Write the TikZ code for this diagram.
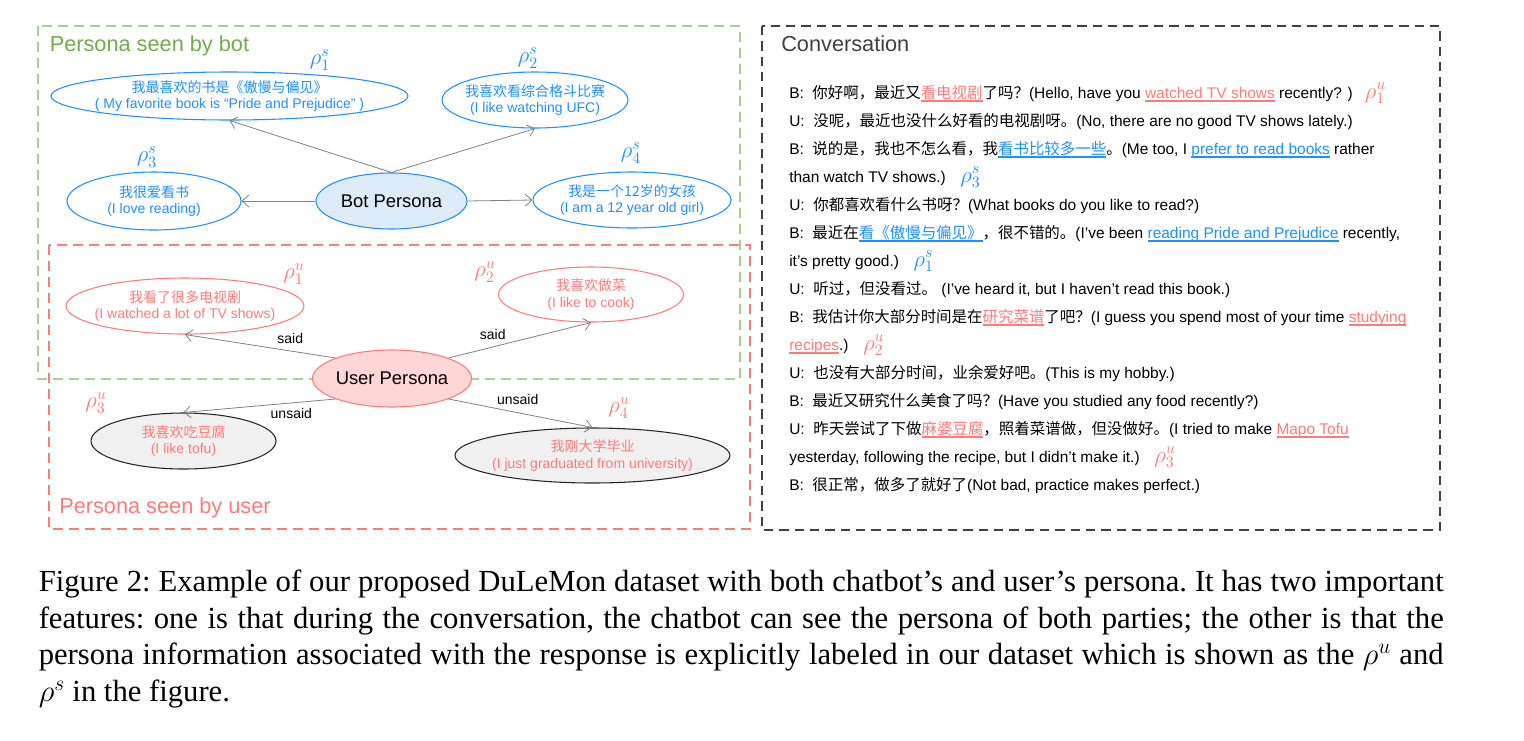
\RequirePackage{fix-cm}
\documentclass[tikz,border=0pt]{standalone}
\usepackage[no-math]{fontspec}
\setmainfont{Liberation Sans}
\newfontfamily\cjk{Noto Sans CJK SC}
\newfontfamily\capfont{Liberation Serif}
\usetikzlibrary{shapes.geometric,arrows.meta}

\definecolor{pblue}{RGB}{30,144,255}
\definecolor{pred}{RGB}{255,122,122}
\definecolor{pgreen}{RGB}{112,173,71}
\definecolor{lgreen}{RGB}{169,209,142}
\definecolor{dgray}{RGB}{64,64,64}
\definecolor{bfill}{RGB}{221,235,247}
\definecolor{rfill}{RGB}{255,214,214}
\definecolor{gfill}{RGB}{240,240,240}

\newcommand\ellfont{\fontsize{10.5}{12.5}\selectfont}
\newcommand\convfont{\fontsize{11.6}{14}\selectfont}
\newcommand\titlefont{\fontsize{16.3}{18}\selectfont}
\newcommand\perfont{\fontsize{13.8}{16}\selectfont}
\newcommand\rhofont{\fontsize{17}{17}\selectfont}
\newcommand\capsize{\fontsize{23}{27.5}\selectfont}

\newsavebox\ulbox
\newcommand\uln[1]{\sbox\ulbox{#1}\rlap{\rule[-2.9pt]{\wd\ulbox}{1.1pt}}\usebox\ulbox}
\newcommand\ru[1]{{\color{pred}\uln{#1}}}
\newcommand\bu[1]{{\color{pblue}\uln{#1}}}
\newcommand\rlab[3]{{\color{#1}\rhofont$\rho_{#2}^{#3}$}}

\begin{document}
\begin{tikzpicture}[x=0.75pt,y=-0.75pt,
    esize/.style 2 args={minimum width=#1*0.75pt,minimum height=#2*0.75pt},
    pell/.style={ellipse,inner sep=0pt,line width=0.8pt},
    sell/.style={pell,draw=pblue},
    uell/.style={pell,draw=pred},
    nell/.style={pell,draw=black!85,fill=gfill},
    etext/.style={align=center,font=\ellfont,inner sep=0pt},
    rlabel/.style={inner sep=0pt,font=\rhofont},
    tag/.style={font=\ellfont,inner sep=0pt},
    link/.style={draw=gray,line width=0.6pt,-{Straight Barb[length=5pt,width=9pt]}},
    title/.style={anchor=base west,inner sep=0pt,font=\titlefont},
    conv/.style={anchor=base west,inner sep=0pt,font=\convfont},
    box/.style={line width=1.6pt,dash pattern=on 7.5pt off 4.5pt}]
\useasboundingbox (0,0) rectangle (1524,740);

\draw[box,draw=lgreen] (38,26) rectangle (740,379);
\draw[box,draw=pred] (49,245) rectangle (750,529);
\draw[box,draw=dgray,dash pattern=on 7pt off 4.5pt] (762,26) rectangle (1440,530);

\node[title,pgreen] (tbot) at (49.5,51) {Persona seen by bot};
\node[title,pred] (tuser) at (59,513) {Persona seen by user};
\node[title,dgray] (tconv) at (781,51) {Conversation};

\node[sell,esize={357}{48}] (s1) at (229.5,96) {};
\node[etext,pblue] (s1t) at (s1) {{\cjk 我最喜欢的书是《傲慢与偏见》}\\( My favorite book is “Pride and Prejudice” )};
\node[sell,esize={186}{56}] (s2) at (535,100) {};
\node[etext,pblue] (s2t) at (s2) {{\cjk 我喜欢看综合格斗比赛}\\(I like watching UFC)};
\node[sell,esize={174}{58}] (s3) at (154,201) {};
\node[etext,pblue] (s3t) at (s3) {{\cjk 我很爱看书}\\(I love reading)};
\node[sell,esize={198}{56}] (s4) at (632,200) {};
\node[etext,pblue] (s4t) at (s4) {{\cjk 我是一个12岁的女孩}\\(I am a 12 year old girl)};
\node[sell,fill=bfill,esize={151}{56},font=\perfont] (bot) at (391.5,201) {Bot Persona};

\node[rlabel,pblue] (r1s) at (320,60) {$\rho_1^s$};
\node[rlabel,pblue] (r2s) at (528,58) {$\rho_2^s$};
\node[rlabel,pblue] (r3s) at (147,157) {$\rho_3^s$};
\node[rlabel,pblue] (r4s) at (631,153) {$\rho_4^s$};

\draw[link] (bot.north) -- (s1.south);
\draw[link] (bot.north) -- (s2.south);
\draw[link] (bot.west) -- (s3.east);
\draw[link] (bot.east) -- (s4.west);

\node[uell,esize={238}{56}] (u1) at (185,306) {};
\node[etext,pred] (u1t) at (u1) {{\cjk 我看了很多电视剧}\\(I watched a lot of TV shows)};
\node[uell,esize={185}{55}] (u2) at (591,294.5) {};
\node[etext,pred] (u2t) at (u2) {{\cjk 我喜欢做菜}\\(I like to cook)};
\node[nell,esize={185}{56}] (u3) at (183.5,441) {};
\node[etext,pred] (u3t) at (u3) {{\cjk 我喜欢吃豆腐}\\(I like tofu)};
\node[nell,esize={275}{55}] (u4) at (592.5,455.5) {};
\node[etext,pred] (u4t) at (u4) {{\cjk 我刚大学毕业}\\(I just graduated from university)};
\node[uell,fill=rfill,esize={152}{57},font=\perfont] (user) at (392,378.5) {User Persona};

\node[rlabel,pred] (r1u) at (294,274) {$\rho_1^u$};
\node[rlabel,pred] (r2u) at (485,272) {$\rho_2^u$};
\node[rlabel,pred] (r3u) at (96,403) {$\rho_3^u$};
\node[rlabel,pred] (r4u) at (619,408) {$\rho_4^u$};

\draw[link] (user.north west) -- node[tag,above=5pt,pos=0.3] {said} (u1.south);
\draw[link] (user.north east) -- node[tag,above=5pt,pos=0.31] {said} (u2.south);
\draw[link] (user.south west) -- node[tag,below=4pt,pos=0.29] {unsaid} (u3.north);
\draw[link] (user.south east) -- node[tag,above=6pt,pos=0.48] {unsaid} (u4.north);

\node[conv] (c1) at (789,98) {B:\ \ {\cjk 你好啊，最近又\ru{看电视剧}了吗？}(Hello, have you \ru{watched TV shows} recently? )\hspace{9pt}\rlab{pred}{1}{u}};
\node[conv] (c2) at (789,126) {U:\ \ {\cjk 没呢，最近也没什么好看的电视剧呀。}(No, there are no good TV shows lately.)};
\node[conv] (c3) at (789,154) {B:\ \ {\cjk 说的是，我也不怎么看，我\bu{看书比较多一些}。}(Me too, I \bu{prefer to read books} rather};
\node[conv] (c4) at (789,182) {than watch TV shows.)\hspace{11pt}\rlab{pblue}{3}{s}};
\node[conv] (c5) at (789,210) {U:\ \ {\cjk 你都喜欢看什么书呀？}(What books do you like to read?)};
\node[conv] (c6) at (789,238) {B:\ \ {\cjk 最近在\bu{看《傲慢与偏见》}，很不错的。}(I've been \bu{reading Pride and Prejudice} recently,};
\node[conv] (c7) at (789,266) {it's pretty good.)\hspace{11pt}\rlab{pblue}{1}{s}};
\node[conv] (c8) at (789,294) {U:\ \ {\cjk 听过，但没看过。} (I've heard it, but I haven’t read this book.)};
\node[conv] (c9) at (789,322) {B:\ \ {\cjk 我估计你大部分时间是在\ru{研究菜谱}了吧？}(I guess you spend most of your time \ru{studying}};
\node[conv] (c10) at (789,350) {\ru{recipes}.)\hspace{11pt}\rlab{pred}{2}{u}};
\node[conv] (c11) at (789,378) {U:\ \ {\cjk 也没有大部分时间，业余爱好吧。}(This is my hobby.)};
\node[conv] (c12) at (789,406) {B:\ \ {\cjk 最近又研究什么美食了吗？}(Have you studied any food recently?)};
\node[conv] (c13) at (789,434) {U:\ \ {\cjk 昨天尝试了下做\ru{麻婆豆腐}，照着菜谱做，但没做好。}(I tried to make \ru{Mapo Tofu}};
\node[conv] (c14) at (789,462) {yesterday, following the recipe, but I didn’t make it.)\hspace{11pt}\rlab{pred}{3}{u}};
\node[conv] (c15) at (789,490) {B:\ \ {\cjk 很正常，做多了就好了}(Not bad, practice makes perfect.)};

\node[anchor=north west,inner sep=0pt,text width=1053.75pt,align=justify,font=\capfont\capsize\frenchspacing] (cap) at (38.5,569.5) {Figure 2: Example of our proposed DuLeMon dataset with both chatbot’s and user’s persona. It has two important\linebreak features: one is that during the conversation, the chatbot can see the persona of both parties; the other is that the\linebreak persona information associated with the response is explicitly labeled in our dataset which is shown as the $\rho^u$ and\linebreak $\rho^s$ in the figure.};
\end{tikzpicture}
\end{document}
